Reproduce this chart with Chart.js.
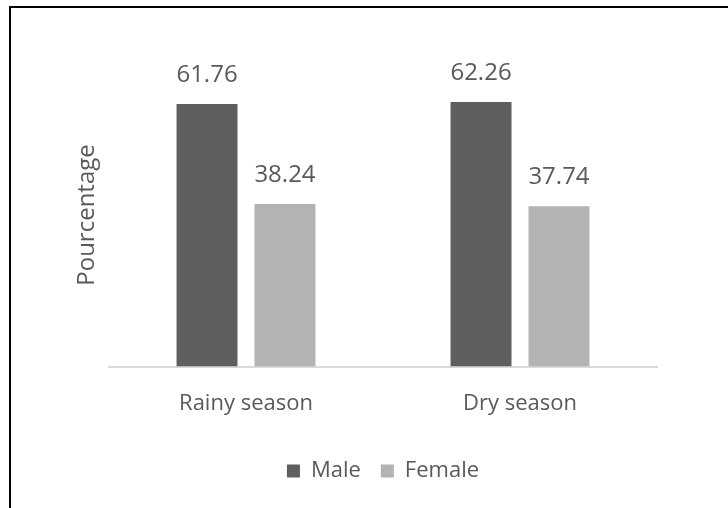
<!DOCTYPE html>
<html>
<head>
<meta charset="utf-8">
<script src="https://cdn.jsdelivr.net/npm/chart.js@4.4.1/dist/chart.umd.min.js"></script>
<style>
  html, body { margin: 0; padding: 0; background: #fff; }
  #wrap { position: relative; width: 728px; height: 508px; overflow: hidden; }
  #frame {
    position: absolute; left: 9px; top: 6px; width: 900px; height: 700px;
    border-left: 2px solid #000; border-top: 2px solid #000;
  }
  #myChart { position: absolute; left: 0; top: 0; }
</style>
</head>
<body>
<div id="wrap">
  <div id="frame"></div>
  <canvas id="myChart" width="728" height="508"></canvas>
</div>
<script>
const seasons = ["Rainy season", "Dry season"];
const male = [61.76, 62.26];
const female = [38.24, 37.74];
const yTitle = "Pourcentage";

const textColor = "#595959";
const font = "'Open Sans', sans-serif";

// valeurs au-dessus des barres + titre vertical
const labelsPlugin = {
  id: "valueLabels",
  afterDatasetsDraw(chart) {
    const c = chart.ctx;
    c.save();
    c.fillStyle = textColor;
    c.font = "24px " + font;
    c.textAlign = "center";
    c.textBaseline = "middle";
    chart.data.datasets.forEach((ds, i) => {
      chart.getDatasetMeta(i).data.forEach((bar, j) => {
        c.fillText(ds.data[j].toFixed(2), bar.x, bar.y - 29);
      });
    });
    c.translate(87, 215);
    c.rotate(-Math.PI / 2);
    c.fillText(yTitle, 0, 0);
    c.restore();
  },
};

const ctx = document.querySelector("#myChart");

const myChart = new Chart(ctx, {
  type: "bar",
  data: {
    labels: seasons,
    datasets: [
      { label: "Male", data: male, backgroundColor: "#5f5f5f" },
      { label: "Female", data: female, backgroundColor: "#b3b3b3" },
    ],
  },
  options: {
    responsive: false,
    animation: { duration: 0 },
    categoryPercentage: 0.569,
    barPercentage: 0.782,
    layout: { padding: { left: 109, right: 71, top: 69, bottom: 16 } },
    scales: {
      x: {
        grid: { display: false },
        border: { color: "#d9d9d9", width: 2 },
        ticks: { color: textColor, font: { family: font, size: 22 }, padding: 16 },
        // un peu d'espace entre les catégories et la légende
        afterFit(axis) {
          axis.height += 7;
        },
      },
      y: { display: false, min: 0, max: 70 },
    },
    plugins: {
      legend: {
        position: "bottom",
        labels: {
          color: textColor,
          font: { family: font, size: 22 },
          boxWidth: 13,
          boxHeight: 13,
          padding: 20,
        },
      },
      tooltip: { enabled: false },
    },
  },
  plugins: [labelsPlugin],
});
</script>
</body>
</html>
